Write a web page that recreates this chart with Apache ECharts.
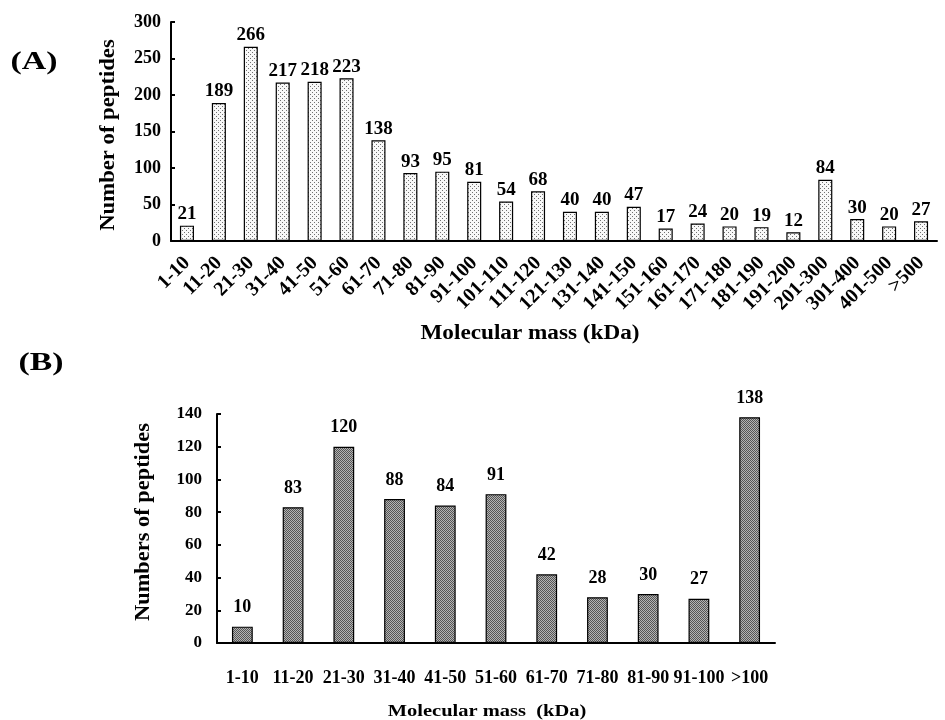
<!DOCTYPE html>
<html><head><meta charset="utf-8">
<script src="https://cdn.jsdelivr.net/npm/echarts@6/dist/echarts.min.js"></script>
<style>html,body{margin:0;padding:0;background:#fff}#c{width:945px;height:720px}</style>
</head><body><div id="c"></div>
<script>
const catsA = ['1-10','11-20','21-30','31-40','41-50','51-60','61-70','71-80','81-90','91-100','101-110','111-120','121-130','131-140','141-150','151-160','161-170','171-180','181-190','191-200','201-300','301-400','401-500','>500'];
const valsA = [21,189,266,217,218,223,138,93,95,81,54,68,40,40,47,17,24,20,19,12,84,30,20,27];
const ticksA = [0,50,100,150,200,250,300];
const catsB = ['1-10','11-20','21-30','31-40','41-50','51-60','61-70','71-80','81-90','91-100','>100'];
const valsB = [10,83,120,88,84,91,42,28,30,27,138];
const ticksB = [0,20,40,60,80,100,120,140];

function pattern(bg, fg, size, pts){
  const c = document.createElement('canvas'); c.width = size; c.height = size;
  const g = c.getContext('2d'); g.fillStyle = bg; g.fillRect(0,0,size,size);
  g.fillStyle = fg; pts.forEach(p=>g.fillRect(p[0],p[1],1,1));
  return {image:c, repeat:'repeat'};
}
const patA = pattern('#f8f8f8','#707070',4,[[0,0],[2,2]]);
const patB = pattern('#b4b4b4','#555555',2,[[0,0],[1,1]]);

const F = '"Liberation Serif","Times New Roman",serif';
const chart = echarts.init(document.getElementById('c'));
const axisLine = {lineStyle:{color:'#000',width:2}};
function yAx(grid, ticks, margin, fs){
  return {gridIndex:grid, type:'value', min:ticks[0], max:ticks[ticks.length-1], interval:ticks[1]-ticks[0],
    splitLine:{show:false},
    axisLine:{show:true, lineStyle:{color:'#000',width:2}},
    axisTick:{show:true, inside:true, length:4, lineStyle:{color:'#000',width:2}},
    axisLabel:{margin:margin, fontFamily:F, fontWeight:'bold', fontSize:fs, color:'#000'}};
}
chart.setOption({
  animation:false,
  grid:[
    {left:171, top:22, width:766, height:219},
    {left:217, top:414, width:558, height:229}
  ],
  xAxis:[
    {gridIndex:0, type:'category', data:catsA, axisLine:axisLine, axisTick:{show:false},
     axisLabel:{rotate:45, interval:0, margin:19, fontFamily:F, fontWeight:'bold', fontSize:20, color:'#000'}},
    {gridIndex:1, type:'category', data:catsB, axisLine:axisLine, axisTick:{show:false},
     axisLabel:{interval:0, margin:26, fontFamily:F, fontWeight:'bold', fontSize:18, color:'#000'}}
  ],
  yAxis:[ yAx(0, ticksA, 10, 18), yAx(1, ticksB, 15, 17) ],
  series:[
    {type:'bar', xAxisIndex:0, yAxisIndex:0, data:valsA, barWidth:'44%',
     itemStyle:{color:patA, borderColor:'#000', borderWidth:1.2},
     label:{show:true, position:'top', distance:2, fontFamily:F, fontWeight:'bold', fontSize:19, color:'#000'}},
    {type:'bar', xAxisIndex:1, yAxisIndex:1, data:valsB, barWidth:'41%',
     itemStyle:{color:patB, borderColor:'#000', borderWidth:1.2},
     label:{show:true, position:'top', distance:10, fontFamily:F, fontWeight:'bold', fontSize:18, color:'#000'}}
  ],
  graphic:[
    {type:'text', x:34, y:62, scaleX:1.3, style:{text:'(A)', font:'bold 26px '+F, fill:'#000', align:'center', verticalAlign:'middle'}},
    {type:'text', x:41, y:363, scaleX:1.3, style:{text:'(B)', font:'bold 26px '+F, fill:'#000', align:'center', verticalAlign:'middle'}},
    {type:'text', x:530, y:334, scaleX:1.16, style:{text:'Molecular mass (kDa)', font:'bold 20px '+F, fill:'#000', align:'center', verticalAlign:'middle'}},
    {type:'text', x:487, y:712, scaleX:1.28, style:{text:'Molecular mass  (kDa)', font:'bold 16px '+F, fill:'#000', align:'center', verticalAlign:'middle'}},
    {type:'text', x:109, y:135, rotation:Math.PI/2, scaleX:1.08, style:{text:'Number of peptides', font:'bold 21px '+F, fill:'#000', align:'center', verticalAlign:'middle'}},
    {type:'text', x:144, y:522, rotation:Math.PI/2, scaleX:1.12, style:{text:'Numbers of peptides', font:'bold 20px '+F, fill:'#000', align:'center', verticalAlign:'middle'}}
  ]
});
</script></body></html>
